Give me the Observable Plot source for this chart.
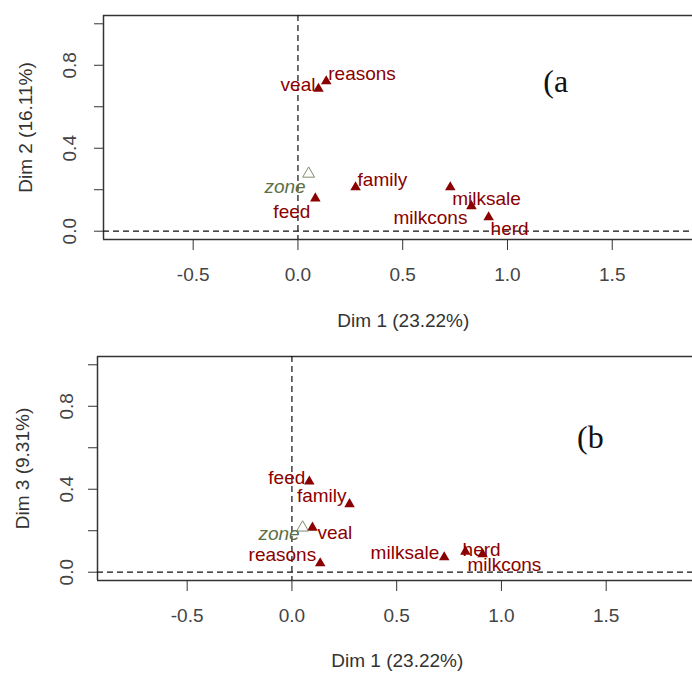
<!DOCTYPE html>
<html>
<head>
<meta charset="utf-8">
<script src="https://cdn.jsdelivr.net/npm/d3@7"></script>
<script src="https://cdn.jsdelivr.net/npm/@observablehq/plot@0.6"></script>
<style>
  html, body { margin: 0; padding: 0; background: #fff; overflow: hidden; }
  #chart svg { display: block; }
</style>
</head>
<body>
<div id="chart"></div>
<script>
// ---- data ----
const names = ["veal", "reasons", "zone", "feed", "family", "milksale", "milkcons", "herd"];
const dim1 = [0.098, 0.135, 0.051, 0.083, 0.275, 0.727, 0.828, 0.910];
const dim2 = [0.687, 0.723, 0.277, 0.158, 0.212, 0.212, 0.121, 0.067];
const dim3 = [0.215, 0.043, 0.215, 0.437, 0.328, 0.072, 0.099, 0.087];
const supplementary = ["zone"];
const xTicks = [-0.5, 0, 0.5, 1, 1.5];
const yTicks = [0, 0.2, 0.4, 0.6, 0.8, 1];
const yTickLabels = [0, 0.4, 0.8];
const xTitle = "Dim 1 (23.22%)";
const yTitles = ["Dim 2 (16.11%)", "Dim 3 (9.31%)"];
const panelTags = ["(a", "(b"];
const panelTagPos = [[1.171, 0.722], [1.361, 0.648]];

// ---- layout (R plot region limits, label placement) ----
const xlimFull = [-0.928, 1.934];
const ylim = [-0.04, 1.04];
const labelPlacement = [
  {veal: ["end", -3, -4], reasons: ["start", 2, -7], zone: ["end", -3, 13], feed: ["end", -5, 13],
   family: ["start", 2, -7], milksale: ["start", 2, 12], milkcons: ["end", -4, 12], herd: ["start", 2, 12]},
  {feed: ["end", -4, -4], family: ["end", -3, -8], zone: ["end", -3, 6], veal: ["start", 5, 5],
   reasons: ["end", -4, -8], milksale: ["end", -5, -4], herd: ["start", -20, -4], milkcons: ["start", 2, 13]}
];
const panelLayout = [
  {height: 340, marginTop: 15, marginBottom: 101, marginLeft: 103, xRight: 1.883, yTickDx: -34, yTitleDx: -78, xTitleDy: 87},
  {height: 333, marginTop: 16, marginBottom: 93, marginLeft: 97, xRight: 1.912, yTickDx: -31, yTitleDx: -75, xTitleDy: 86}
];

const darkred = "#8B0000";
const suppColor = "#5b7045";
const fmt = d => d.toFixed(1);

function panel(i, dimY) {
  const L = panelLayout[i];
  const rows = names.map((n, k) => ({name: n, x: dim1[k], y: dimY[k], supp: supplementary.includes(n)}));
  const active = rows.filter(d => !d.supp);
  const supp = rows.filter(d => d.supp);
  const place = labelPlacement[i];
  const labelMarks = rows.map(d => {
    const [anchor, dx, dy] = place[d.name];
    return Plot.text([d], {
      x: "x", y: "y", text: "name", textAnchor: anchor, dx, dy,
      fill: d.supp ? suppColor : darkred, fontStyle: d.supp ? "italic" : "normal", fontSize: 19
    });
  });
  const xDomain = [xlimFull[0], L.xRight];
  return Plot.plot({
    width: 692,
    height: L.height,
    marginTop: L.marginTop,
    marginBottom: L.marginBottom,
    marginLeft: L.marginLeft,
    marginRight: 0,
    style: {fontFamily: "Liberation Sans, Arial, sans-serif", fontSize: "19px", color: "#333", background: "#fff"},
    x: {domain: xDomain, label: null},
    y: {domain: ylim, label: null},
    marks: [
      // frame (left, top, bottom)
      Plot.ruleX([xDomain[0]], {stroke: "#333", strokeWidth: 1.5}),
      Plot.ruleY(ylim, {stroke: "#333", strokeWidth: 1.5}),
      // dashed origin lines
      Plot.ruleX([0], {stroke: "#111", strokeWidth: 1.2, strokeDasharray: "6,4"}),
      Plot.ruleY([0], {stroke: "#111", strokeWidth: 1.2, strokeDasharray: "6,4"}),
      // axes
      Plot.axisX(xTicks, {tickSize: 11, tickPadding: 17, tickFormat: fmt, fontSize: 19, label: null, stroke: "#333", fill: "#444"}),
      Plot.axisY(yTicks, {tickSize: 9, tickFormat: () => "", label: null, stroke: "#333"}),
      Plot.text(yTickLabels, {frameAnchor: "left", y: d => d, text: fmt, rotate: -90, textAnchor: "middle", dx: L.yTickDx, fontSize: 19, fill: "#444"}),
      Plot.text([yTitles[i]], {frameAnchor: "left", rotate: -90, textAnchor: "middle", dx: L.yTitleDx, fontSize: 19, fill: "#333"}),
      Plot.text([xTitle], {x: () => (xlimFull[0] + xlimFull[1]) / 2, frameAnchor: "bottom", textAnchor: "middle", dy: L.xTitleDy, fontSize: 19, fill: "#333"}),
      // points
      Plot.dot(active, {x: "x", y: "y", symbol: "triangle", r: 3.9, fill: darkred, stroke: "none"}),
      Plot.dot(supp, {x: "x", y: "y", symbol: "triangle", r: 4.4, fill: "none", stroke: "#7d8c6c", strokeWidth: 1}),
      ...labelMarks,
      // panel tag
      Plot.text([panelTags[i]], {x: () => panelTagPos[i][0], y: () => panelTagPos[i][1], textAnchor: "start",
        fontFamily: "Liberation Serif, Times New Roman, serif", fontSize: 32, fill: "#111"})
    ]
  });
}

const root = document.getElementById("chart");
root.append(panel(0, dim2));
root.append(panel(1, dim3));
</script>
</body>
</html>
